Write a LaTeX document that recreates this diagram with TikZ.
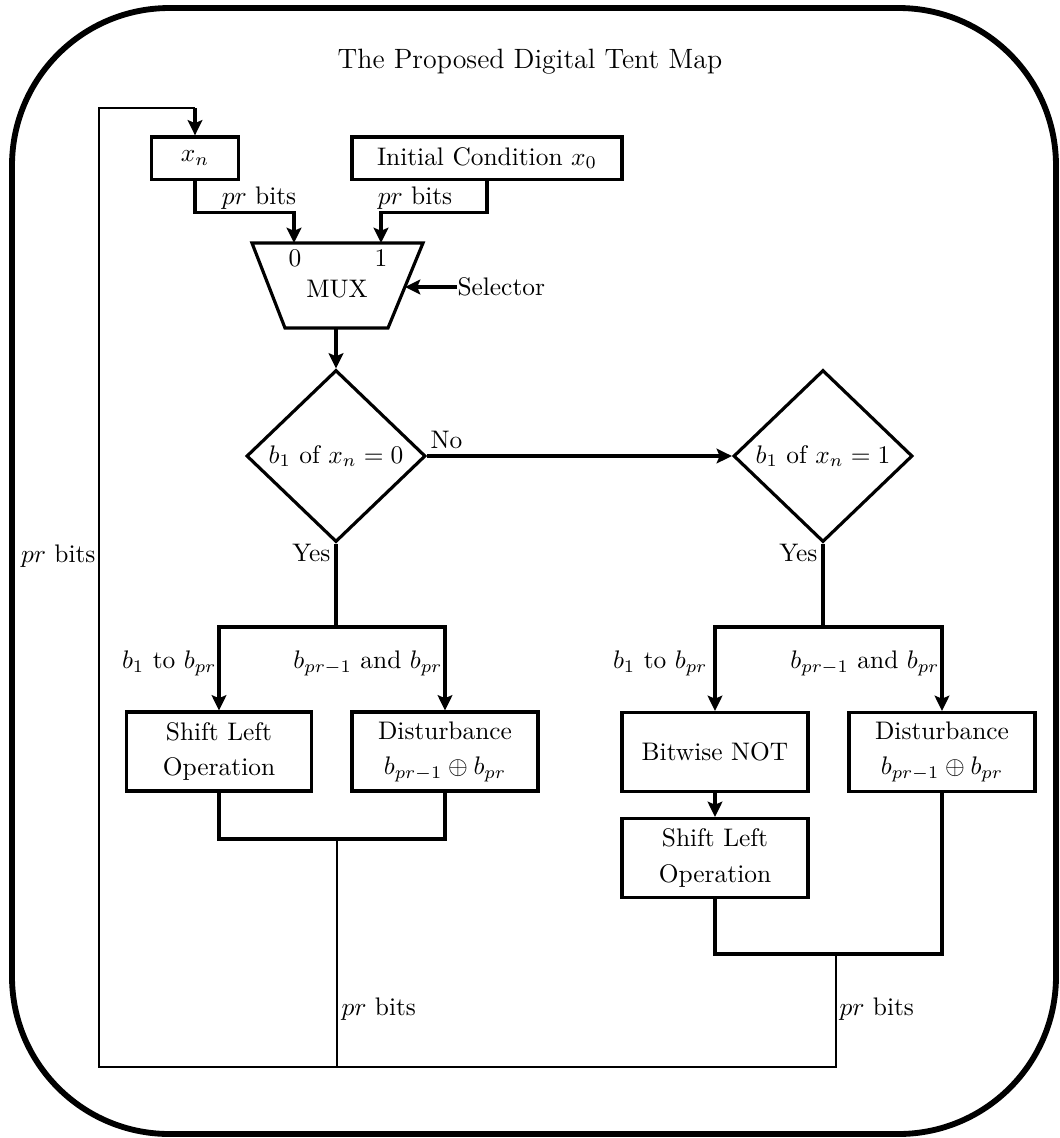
\documentclass[tikz,border=0pt]{standalone}
\usetikzlibrary{arrows.meta,shapes.geometric}
\begin{document}
\begin{tikzpicture}[x=0.3937pt,y=-0.3937pt,
  wire/.style={line width=1.25pt},
  busline/.style={line width=1.1pt},
  arrow/.style={wire,-{Stealth[length=6pt,width=5.8pt,inset=1.2pt]}},
  block/.style={draw,line width=1.25pt,rectangle,inner sep=0pt,align=center},
  decision/.style={draw,line width=1.25pt,diamond,inner sep=0pt,
    minimum width=70.5pt,minimum height=67.7pt},
  lbl/.style={inner sep=0pt}]
\useasboundingbox (0,0) rectangle (1060,1138);

% outer frame
\draw[line width=2.3pt,rounded corners=62pt] (12,8) rectangle (1056,1134);
\node[lbl,font=\fontsize{11}{13}\selectfont] (title) at (530,62) {The Proposed Digital Tent Map};

% inputs
\node[block,minimum width=34pt,minimum height=16.6pt] (xn) at (195,158) {$x_n$};
\node[block,minimum width=106.3pt,minimum height=16.6pt] (init) at (487,158) {Initial Condition $x_0$};

% multiplexer
\draw[wire] (252,243) -- (423,243) -- (388,328) -- (285,328) -- cycle;
\coordinate (in0) at (294,243);
\coordinate (in1) at (381,243);
\coordinate (muxsel) at (405,287);
\coordinate (muxout) at (336,328);
\node[lbl] (zero) at (295,258) {0};
\node[lbl] (one) at (381,258) {1};
\node[lbl] (mux) at (337,289) {MUX};
\node[lbl,anchor=west] (sel) at (457,287) {Selector};
\draw[arrow] (sel.west) -- (muxsel);

\draw[arrow] (xn.south) -- ++(0,32) -| (in0);
\draw[arrow] (init.south) -- ++(0,32) -| (in1);
\node[lbl] (bitsA) at (259,198) {$pr$ bits};
\node[lbl] (bitsB) at (415,198) {$pr$ bits};

% decisions
\node[decision] (d1) at (336,456) {$b_1$ of $x_n=0$};
\node[decision] (d2) at (823,456) {$b_1$ of $x_n=1$};
\draw[arrow] (muxout) -- (d1.north);
\draw[arrow] (d1.east) -- (d2.west);
\node[lbl,anchor=west] (no) at (430,440) {No};
\node[lbl,anchor=east] (yes1) at (331,553) {Yes};
\node[lbl,anchor=east] (yes2) at (818,553) {Yes};

% left branch
\node[block,minimum width=72.8pt,minimum height=31.1pt] (sl1) at (219,751.5) {Shift Left\\[1.8pt]Operation};
\node[block,minimum width=73.2pt,minimum height=31.1pt] (dist1) at (445,751.5) {Disturbance\\[1.8pt]$b_{pr-1}\oplus b_{pr}$};
\coordinate (br1) at (336,627);
\draw[wire] (d1.south) -- (br1);
\draw[arrow] (br1) -| (sl1.north);
\draw[arrow] (br1) -| (dist1.north);
\node[lbl,anchor=east] (tA) at (217,663) {$b_1$ to $b_{pr}$};
\node[lbl,anchor=east] (tB) at (443,663) {$b_{pr-1}$ and $b_{pr}$};
\coordinate (jL) at (337,839);
\draw[wire] (sl1.south) |- (jL) -| (dist1.south);

% right branch
\node[block,minimum width=73.2pt,minimum height=31.1pt] (not) at (715,752) {Bitwise NOT};
\node[block,minimum width=73.2pt,minimum height=31.1pt] (sl2) at (715,858) {Shift Left\\[1.8pt]Operation};
\node[block,minimum width=73.2pt,minimum height=31.1pt] (dist2) at (942,752) {Disturbance\\[1.8pt]$b_{pr-1}\oplus b_{pr}$};
\coordinate (br2) at (823,627);
\draw[wire] (d2.south) -- (br2);
\draw[arrow] (br2) -| (not.north);
\draw[arrow] (br2) -| (dist2.north);
\draw[arrow] (not.south) -- (sl2.north);
\node[lbl,anchor=east] (tC) at (708,663) {$b_1$ to $b_{pr}$};
\node[lbl,anchor=east] (tD) at (940,663) {$b_{pr-1}$ and $b_{pr}$};
\coordinate (jR) at (836,954);
\draw[wire] (sl2.south) |- (jR) -| (dist2.south);

% feedback to x_n
\coordinate (fb) at (99,1067);
\coordinate (fbtop) at (99,108);
\draw[busline] (jL) -- (jL |- fb);
\draw[busline] (jR) |- (fb) -- (fbtop) -- (fbtop -| xn.north);
\draw[arrow] (fbtop -| xn.north) -- (xn.north);
\node[lbl,anchor=west] (bitsC) at (341,1009) {$pr$ bits};
\node[lbl,anchor=west] (bitsD) at (839,1009) {$pr$ bits};
\node[lbl,anchor=east] (bitsE) at (96,556) {$pr$ bits};
\end{tikzpicture}
\end{document}
